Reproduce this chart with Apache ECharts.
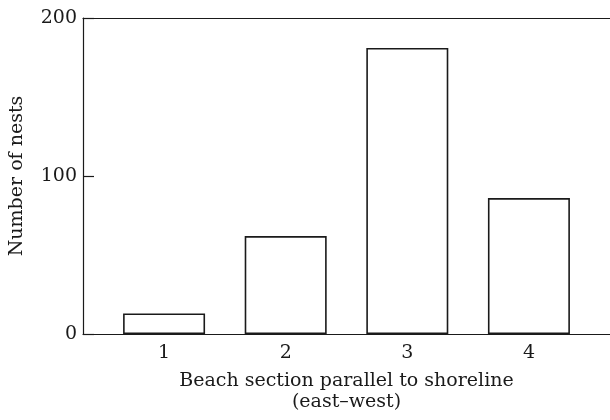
<!DOCTYPE html>
<html>
<head>
<meta charset="utf-8">
<script src="https://cdn.jsdelivr.net/npm/echarts@6/dist/echarts.min.js"></script>
<style>html,body{margin:0;padding:0;background:#fff;}#c{width:610px;height:420px;}</style>
</head>
<body>
<div id="c"></div>
<script>
var sections = [1, 2, 3, 4];
var nests = [13, 62, 181, 86];
var yTicks = [0, 100, 200];
var xTitle = 'Beach section parallel to shoreline\n(east\u2013west)';
var yTitle = 'Number of nests';

var font = '"DejaVu Serif", "Liberation Serif", serif';
var ink = '#1a1a1a';
var fs = 19;
var chart = echarts.init(document.getElementById('c'));
chart.setOption({
  animation: false,
  backgroundColor: '#fff',
  grid: { left: 83, right: 0, top: 18, bottom: 86, containLabel: false },
  xAxis: [{
    type: 'value', min: 1/3, max: 14/3,
    axisLine: { show: true, onZero: false, lineStyle: { color: ink, width: 1.2 } },
    axisTick: { show: false },
    splitLine: { show: false },
    axisLabel: { customValues: sections, formatter: function (v) { return String(v); }, color: ink, fontFamily: font, fontSize: fs, margin: 10 },
    name: xTitle, nameLocation: 'middle', nameGap: 37,
    nameTextStyle: { color: ink, fontFamily: font, fontSize: fs, lineHeight: 21, verticalAlign: 'top' }
  }, {
    type: 'value', min: 1/3, max: 14/3, position: 'top',
    axisLine: { show: true, onZero: false, lineStyle: { color: ink, width: 1.2 } },
    axisTick: { show: false }, axisLabel: { show: false }, splitLine: { show: false }
  }],
  yAxis: {
    type: 'value', min: 0, max: 200,
    axisLine: { show: true, onZero: false, lineStyle: { color: ink, width: 1.2 } },
    axisTick: { show: true, inside: true, length: 11, customValues: yTicks, lineStyle: { color: ink, width: 1.2 } },
    splitLine: { show: false },
    axisLabel: { customValues: yTicks, color: ink, fontFamily: font, fontSize: fs, margin: 6 },
    name: yTitle, nameLocation: 'middle', nameGap: 56, nameRotate: 90,
    nameTextStyle: { color: ink, fontFamily: font, fontSize: fs }
  },
  series: [{
    type: 'bar',
    xAxisIndex: 0,
    barWidth: 82,
    data: sections.map(function (s, i) { return [s, nests[i]]; }),
    itemStyle: { color: '#fff', borderColor: ink, borderWidth: 1.6 }
  }]
});
</script>
</body>
</html>
